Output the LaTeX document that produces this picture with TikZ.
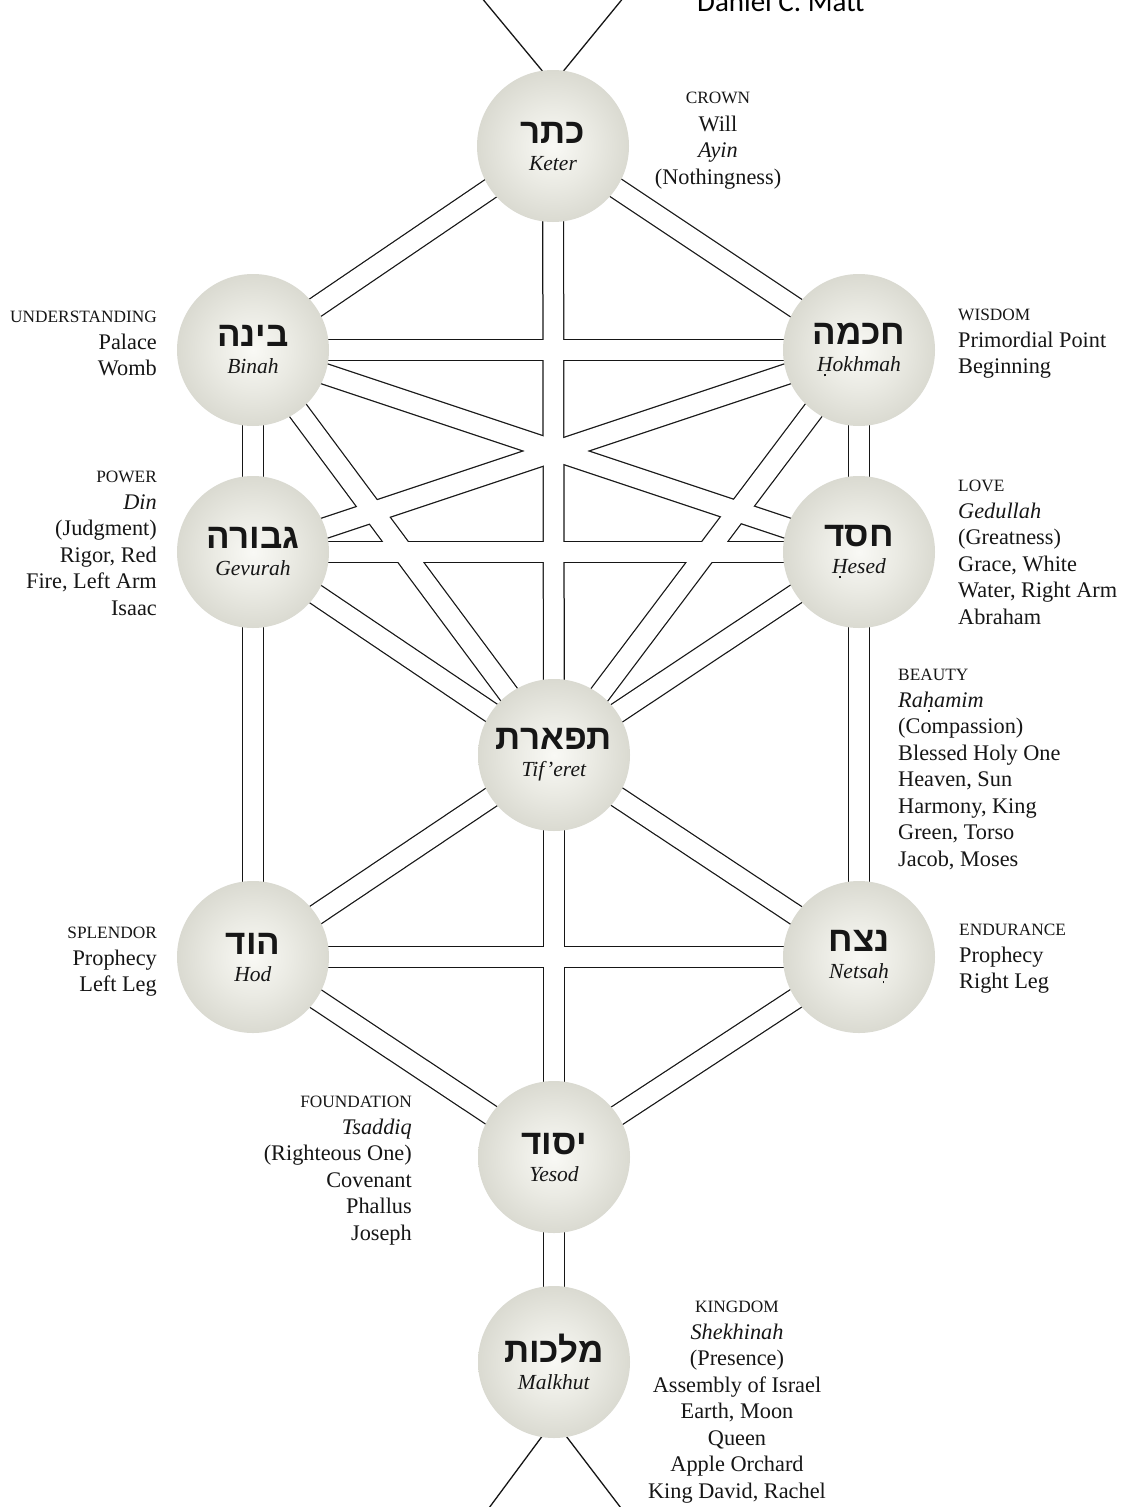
\documentclass[tikz,border=0pt]{standalone}
\usepackage{fontspec}
\usepackage{tikz}
\setmainfont{Liberation Serif}
\newfontfamily\hebfont[Script=Hebrew]{Liberation Sans}
\newfontfamily\signfont{Carlito}
\TeXXeTstate=1

\definecolor{inkgray}{RGB}{22,22,22}
\definecolor{sefiracore}{RGB}{249,249,245}
\definecolor{sefiramid}{RGB}{234,234,227}
\definecolor{sefiraedge}{RGB}{218,218,209}
\pgfdeclareradialshading{sefirashade}{\pgfpoint{0bp}{0bp}}{color(0bp)=(sefiracore); color(13bp)=(sefiramid); color(25bp)=(sefiraedge); color(50bp)=(sefiraedge)}

\pgfdeclarelayer{channels}
\pgfsetlayers{channels,main}

\newcommand{\heb}[1]{{\hebfont\bfseries\fontsize{35}{27}\selectfont\beginR#1\endR}}
\newcommand{\aspect}[1]{{\fontsize{17.3}{26.5}\selectfont #1}}
\newcommand{\udot}[1]{\oalign{#1\crcr\hidewidth\rule{1.9pt}{1.9pt}\hidewidth}}
\def\channels{ket/bin, ket/hok, ket/tif, bin/hok, bin/gev, hok/hes, bin/tif, hok/tif, bin/hes, hok/gev, gev/hes, gev/tif, hes/tif, gev/hod, hes/net, tif/hod, tif/net, tif/yes, hod/net, hod/yes, net/yes, yes/mal}

\begin{document}
\begin{tikzpicture}[x=1pt,y=-1pt,
    sefira/.style={circle, minimum size=152pt, inner sep=0pt, shade, shading=sefirashade,
      align=center, text=inkgray, font=\fontsize{21.5}{27}\selectfont},
    chanrim/.style={line width=22pt, draw=inkgray},
    chanbed/.style={line width=19.5pt, draw=white},
    thread/.style={line width=1.3pt, draw=inkgray},
    lore/.style={inner sep=0pt, text=inkgray, font=\fontsize{22.3}{26.5}\selectfont},
    lorel/.style={lore, align=right, anchor=north east},
    lorer/.style={lore, align=left, anchor=north west},
    lorec/.style={lore, align=center, anchor=north}]
  \useasboundingbox (0,0) rectangle (1127,1507);

  % the ten sefirot
  \node[sefira] (ket) at (553,146) {\heb{כתר}\\\textit{Keter}};
  \node[sefira] (bin) at (253,350) {\heb{בינה}\\\textit{Binah}};
  \node[sefira] (hok) at (859,350) {\heb{חכמה}\\\textit{\udot{H}okhmah}};
  \node[sefira] (gev) at (253,552) {\heb{גבורה}\\\textit{Gevurah}};
  \node[sefira] (hes) at (859,552) {\heb{חסד}\\\textit{\udot{H}esed}};
  \node[sefira] (tif) at (554,755) {\heb{תפארת}\\\textit{Tif’eret}};
  \node[sefira] (hod) at (253,957) {\heb{הוד}\\\textit{Hod}};
  \node[sefira] (net) at (859,957) {\heb{נצח}\\\textit{Netsa\udot{h}}};
  \node[sefira] (yes) at (554,1157) {\heb{יסוד}\\\textit{Yesod}};
  \node[sefira] (mal) at (554,1362) {\heb{מלכות}\\\textit{Malkhut}};

  % open ends above and below
  \coordinate (ketv) at ([yshift=-14pt]ket.north);
  \coordinate (malv) at ([yshift=18pt]mal.south);
  \coordinate (topl) at (481,-3);
  \coordinate (topr) at (624,-3);
  \coordinate (botl) at (486,1512);
  \coordinate (botr) at (624,1512);

  % channels
  \begin{pgfonlayer}{channels}
    \fill[white] (0,0) rectangle (1127,1507);
    \draw[thread] (topl) -- (ketv) -- (topr);
    \draw[thread] (botl) -- (malv) -- (botr);
    \foreach \a/\b in \channels
      \draw[chanrim] (\a.center) -- (\b.center);
    \foreach \a/\b in \channels
      \draw[chanbed] (\a.center) -- (\b.center);
  \end{pgfonlayer}

  % attributes
  \node[lorec] (ket-lore) at (718,92) {\aspect{CROWN}\\[1pt]Will\\\textit{Ayin}\\(Nothingness)};
  \node[lorel] (bin-lore) at (157,311) {\aspect{UNDERSTANDING}\\Palace\\Womb};
  \node[lorer] (hok-lore) at (958,309) {\aspect{WISDOM}\\Primordial Point\\Beginning};
  \node[lorel] (gev-lore) at (157,471) {\aspect{POWER}\\\textit{Din}\\(Judgment)\\Rigor, Red\\Fire, Left Arm\\Isaac};
  \node[lorer] (hes-lore) at (958,480) {\aspect{LOVE}\\\textit{Gedullah}\\(Greatness)\\Grace, White\\Water, Right Arm\\Abraham};
  \node[lorer] (tif-lore) at (898,669) {\aspect{BEAUTY}\\\textit{Ra\udot{h}amim}\\(Compassion)\\Blessed Holy One\\Heaven, Sun\\Harmony, King\\Green, Torso\\Jacob, Moses};
  \node[lorel] (hod-lore) at (157,927) {\aspect{SPLENDOR}\\Prophecy\\Left Leg};
  \node[lorer] (net-lore) at (959,924) {\aspect{ENDURANCE}\\Prophecy\\Right Leg};
  \node[lorel] (yes-lore) at (412,1096) {\aspect{FOUNDATION}\\\textit{Tsaddiq}\\(Righteous One)\\Covenant\\Phallus\\Joseph};
  \node[lorec] (mal-lore) at (737,1301) {\aspect{KINGDOM}\\\textit{Shekhinah}\\(Presence)\\Assembly of Israel\\Earth, Moon\\Queen\\Apple Orchard\\King David, Rachel};

  % byline, cut by the top edge
  \node[anchor=base west, inner sep=0pt, font=\signfont\fontsize{29}{29}\selectfont] (byline) at (697,12) {Daniel C. Matt};
\end{tikzpicture}
\end{document}
